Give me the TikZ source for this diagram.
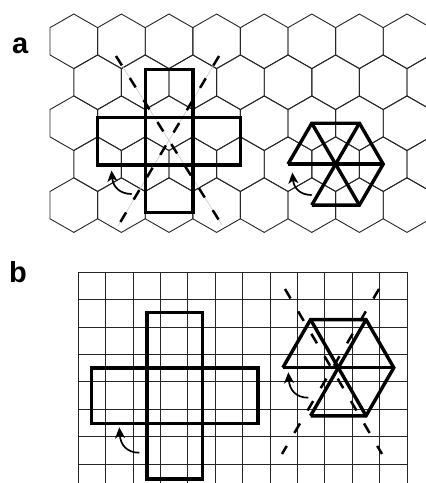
\documentclass[tikz,border=0pt]{standalone}
\usepackage{fontspec}
\setmainfont{Liberation Sans}
\usetikzlibrary{arrows.meta}
\begin{document}
\begin{tikzpicture}[x=1pt,y=-1pt,
  lat/.style={line width=0.9pt,draw=black!85},
  shp/.style={line width=3.4pt,line join=miter},
  dsh/.style={line width=2.5pt,dash pattern=on 11pt off 15pt},
  faint/.style={line width=0.6pt,draw=black!22},
  rot/.style={line width=1.7pt,-{Stealth[length=11pt,width=10pt,inset=3pt]}},
  lbl/.style={font=\fontsize{29}{29}\selectfont\bfseries,inner sep=0pt,anchor=base west}]
\useasboundingbox (0,0) rectangle (426,483);
% labels
\node[lbl] (la) at (12,53) {a};
\node[lbl] (lb) at (9,282.7) {b};
% ---------- panel a: hexagonal lattice ----------
\begin{scope}
\clip (0,0) rectangle (426,483);
\foreach \cy in {41.3,123.2,205.1}{
 \foreach \k in {0,...,7}{
  \draw[lat] ({73.8+47.6*\k},\cy) +(0,-27.3) -- +(23.8,-13.65) -- +(23.8,13.65) -- +(0,27.3) -- +(-23.8,13.65) -- +(-23.8,-13.65) -- cycle;
 }}
\foreach \cy in {82.25,164.15}{
 \foreach \k in {0,...,7}{
  \draw[lat] ({97.6+47.6*\k},\cy) +(0,-27.3) -- +(23.8,-13.65) -- +(23.8,13.65) -- +(0,27.3) -- +(-23.8,13.65) -- +(-23.8,-13.65) -- cycle;
 }}
\end{scope}
% dashed axes (a)
\coordinate (a1s) at (116,56);  \coordinate (a1e) at (222,225);
\coordinate (a2s) at (219,56);  \coordinate (a2e) at (118,226);
\draw[faint] (a1s) -- (a1e);
\draw[faint] (a2s) -- (a2e);
% cross (a)
\draw[shp] (145.2,69.6) rectangle (192.8,212.4);
\draw[shp] (97.6,117.2) rectangle (240.4,164.8);
% hexagon figure (a)
\coordinate (hL) at (288,164.15);   \coordinate (hR) at (383.2,164.15);
\coordinate (hTL) at (311.8,123.2); \coordinate (hTR) at (359.4,123.2);
\coordinate (hBL) at (311.8,205.1); \coordinate (hBR) at (359.4,205.1);
\draw[shp] (hBL) -- (hBR) -- (hR) -- (hTR) -- (hTL) -- (hL);
\draw[shp] (hTL) -- (hBR);
\draw[shp] (hTR) -- (hBL);
\draw[shp] (hL) -- (hR);
\draw[dsh] (a1s) -- (a1e);
\draw[dsh] (a2s) -- (a2e);
% rotation arrows (a)
\coordinate (ra1t) at (131.7,194);  \coordinate (ra1h) at (111.5,170.5);
\coordinate (ra2t) at (311.7,195);  \coordinate (ra2h) at (292.3,172.5);
\draw[rot] (ra1t) .. controls (120,194) and (113,187) .. (ra1h);
\draw[rot] (ra2t) .. controls (300,195) and (293.8,188) .. (ra2h);
% ---------- panel b: square lattice ----------
\foreach \k in {0,...,12}{
  \draw[lat] ({78.3+27.4*\k},272.3) -- ({78.3+27.4*\k},483);
}
\foreach \k in {0,...,7}{
  \draw[lat] (78.3,{272.3+27.4*\k}) -- (407.1,{272.3+27.4*\k});
}
% cross (b)
\draw[shp] (146.95,312.35) rectangle (202.45,478.85);
\draw[shp] (91.45,367.85) rectangle (257.95,423.35);
% hexagon figure (b)
\coordinate (gL) at (282.8,367.7);    \coordinate (gR) at (393.8,367.7);
\coordinate (gTL) at (310.55,319.6);  \coordinate (gTR) at (366.05,319.6);
\coordinate (gBL) at (310.55,415.8);  \coordinate (gBR) at (366.05,415.8);
\draw[shp] (gBL) -- (gBR) -- (gR) -- (gTR) -- (gTL) -- (gL);
\draw[shp] (gTL) -- (gBR);
\draw[shp] (gTR) -- (gBL);
\draw[shp] (gL) -- (gR);
% dashed axes (b)
\coordinate (b1s) at (285,289);  \coordinate (b1e) at (382,454);
\coordinate (b2s) at (379,289);  \coordinate (b2e) at (282,454);
\draw[dsh] (b1s) -- (b1e);
\draw[dsh] (b2s) -- (b2e);
% rotation arrows (b)
\coordinate (rb1t) at (139.3,452.7);  \coordinate (rb1h) at (119.3,427.3);
\coordinate (rb2t) at (308.3,397.7);  \coordinate (rb2h) at (288.3,372.3);
\draw[rot] (rb1t) .. controls (127,452.7) and (120.5,445) .. (rb1h);
\draw[rot] (rb2t) .. controls (296,397.7) and (289.5,390) .. (rb2h);
\end{tikzpicture}
\end{document}
